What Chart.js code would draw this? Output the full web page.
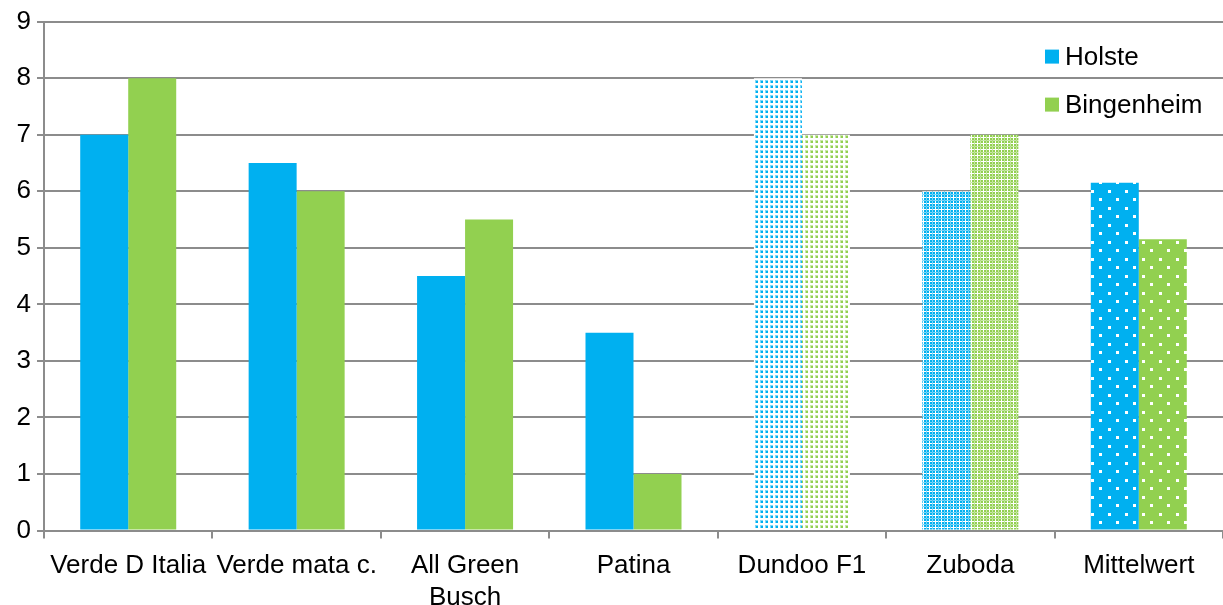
<!DOCTYPE html>
<html>
<head>
<meta charset="utf-8">
<script src="https://cdn.jsdelivr.net/npm/chart.js@4/dist/chart.umd.min.js"></script>
<style>
  html, body { margin: 0; padding: 0; background: #fff; }
  #wrap { width: 1223px; height: 605px; }
</style>
</head>
<body>
<div id="wrap"><canvas id="chart1"></canvas></div>
<script>
// Sorten und Werte
let sorten = ['Verde D Italia', 'Verde mata c.', ['All Green', 'Busch'], 'Patina', 'Dundoo F1', 'Zuboda', 'Mittelwert'];
let holste = [7, 6.5, 4.5, 3.5, 8, 6, 6.15];
let bingenheim = [8, 6, 5.5, 1, 7, 7, 5.15];
let yTicks = [0, 1, 2, 3, 4, 5, 6, 7, 8, 9];

const BLUE = '#00B0F0';
const GREEN = '#92D050';
const GRID = '#8c8c8c';
const FONT = '"Liberation Sans", Arial, sans-serif';

// kleine Kachel-Muster fuer die gemusterten Balken
function tile(w, h, draw){
    let c = document.createElement('canvas');
    c.width = w; c.height = h;
    let g = c.getContext('2d');
    draw(g);
    return document.getElementById('chart1').getContext('2d').createPattern(c, 'repeat');
}

function dotted(color){
    return tile(5, 5, g => {
        g.fillStyle = '#fff'; g.fillRect(0, 0, 5, 5);
        g.fillStyle = color;
        g.globalAlpha = 0.5; g.fillRect(0, 0, 3, 3);
        g.globalAlpha = 1; g.fillRect(1, 1, 2, 2);
    });
}

function dense(color){
    return tile(6, 6, g => {
        g.fillStyle = '#fff'; g.fillRect(0, 0, 6, 6);
        g.fillStyle = color;
        g.fillRect(0, 0, 2, 2); g.fillRect(3, 0, 2, 2);
        g.fillRect(0, 3, 2, 2); g.fillRect(3, 3, 2, 2);
        g.globalAlpha = 0.5;
        g.fillRect(2, 0, 1, 6); g.fillRect(0, 2, 6, 1);
    });
}

function sparse(color){
    return tile(17, 17, g => {
        g.fillStyle = color; g.fillRect(0, 0, 17, 17);
        g.fillStyle = '#fff';
        g.fillRect(3, 3, 3, 3);
        g.fillRect(11, 11, 3, 3);
    });
}

function fills(color){
    return [color, color, color, color, dotted(color), dense(color), sparse(color)];
}

// Legende innerhalb der Zeichenflaeche
const innerLegend = {
    id: 'innerLegend',
    afterDraw(chart){
        let ctx = chart.ctx;
        let a = chart.chartArea;
        let items = [['Holste', BLUE], ['Bingenheim', GREEN]];
        ctx.save();
        ctx.font = '26px ' + FONT;
        ctx.textBaseline = 'middle';
        items.forEach((it, i) => {
            let y = a.top + 35 + i * 48;
            let x = a.right - 178;
            ctx.fillStyle = it[1];
            ctx.fillRect(x, y - 7, 14, 14);
            ctx.fillStyle = '#000';
            ctx.fillText(it[0], x + 20, y + 1);
        });
        ctx.restore();
    }
};

var ctx1 = document.getElementById('chart1');
var chart1 = new Chart(ctx1, {
    type: 'bar',
    data: {
        labels: sorten,
        datasets: [
            { label: 'Holste', data: holste, backgroundColor: fills(BLUE) },
            { label: 'Bingenheim', data: bingenheim, backgroundColor: fills(GREEN) }
        ]
    },
    options: {
        responsive: true,
        maintainAspectRatio: false,
        animation: false,
        layout: { padding: { top: 5, right: 0, left: 0, bottom: -20 } },
        datasets: { bar: { barPercentage: 1, categoryPercentage: 0.57 } },
        plugins: {
            legend: { display: false },
            tooltip: { enabled: false }
        },
        scales: {
            x: {
                grid: { drawOnChartArea: false, color: GRID, lineWidth: 2, tickLength: 8, offset: true },
                border: { color: GRID, width: 2 },
                ticks: {
                    color: '#000',
                    font: { family: FONT, size: 26, lineHeight: 1.2 },
                    maxRotation: 0, autoSkip: false, padding: 12
                }
            },
            y: {
                min: 0, max: 9,
                afterBuildTicks: s => { s.ticks = yTicks.map(v => ({ value: v })); },
                afterFit: s => { s.width = 44; },
                grid: { color: GRID, lineWidth: 2, tickLength: 7 },
                border: { color: GRID, width: 2 },
                ticks: {
                    color: '#000',
                    font: { family: FONT, size: 26 },
                    padding: 6
                }
            }
        }
    },
    plugins: [innerLegend]
});
</script>
</body>
</html>
